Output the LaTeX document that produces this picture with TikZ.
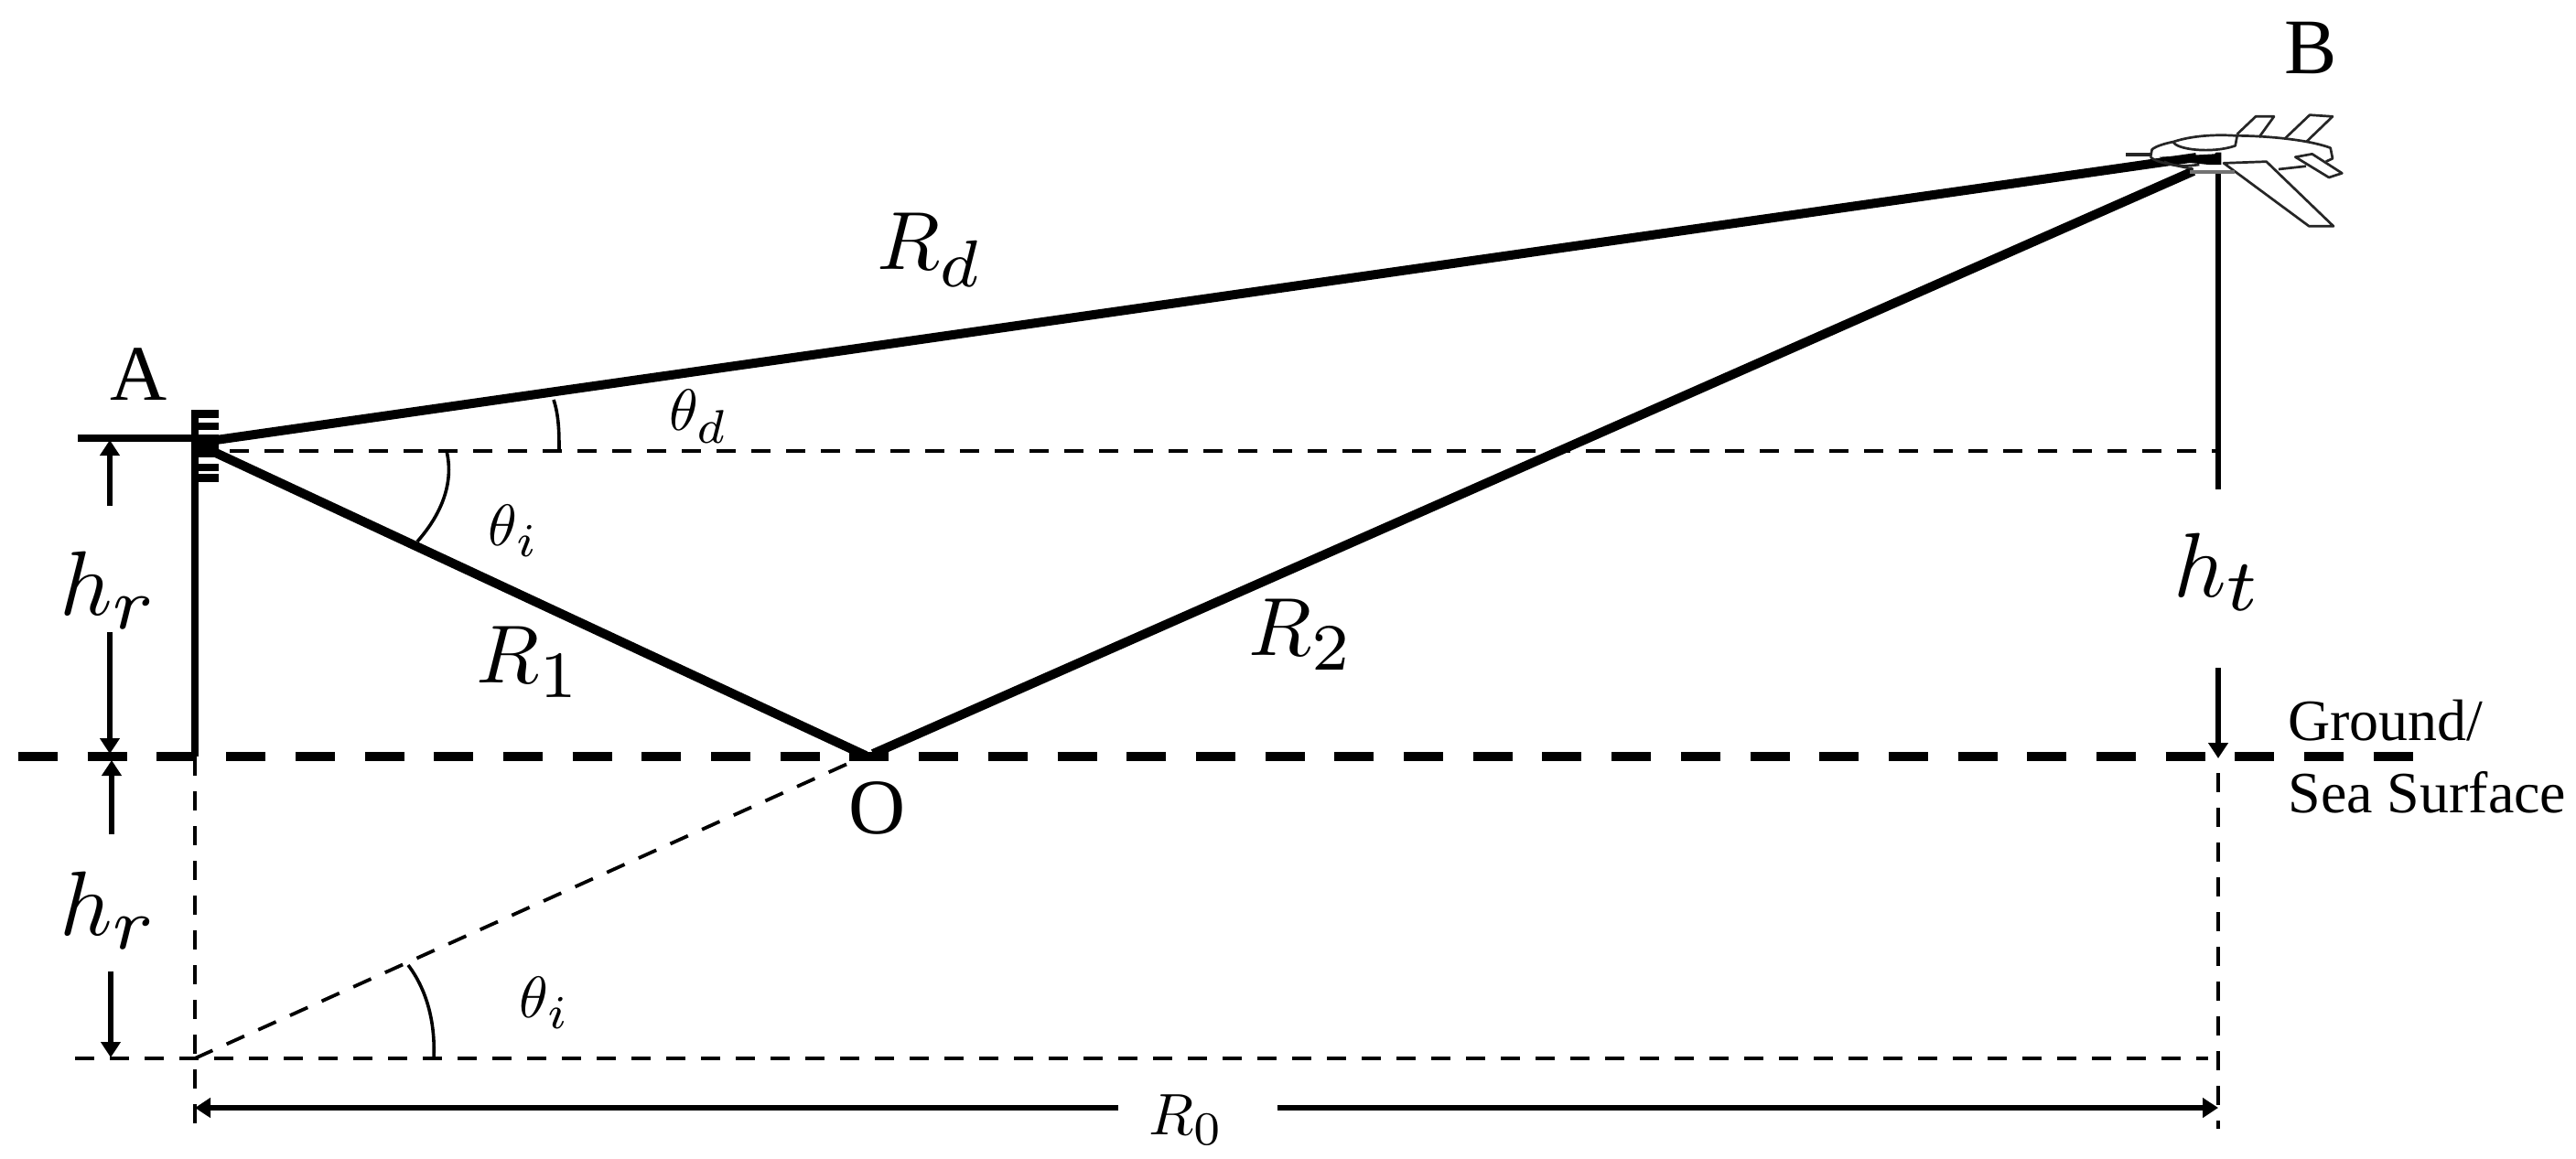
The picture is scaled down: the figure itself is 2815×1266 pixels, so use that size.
\documentclass[tikz,border=0pt]{standalone}
\usepackage{graphicx}
\usepackage{fontspec}
\newfontfamily\tnr{Liberation Serif}
\usetikzlibrary{arrows.meta}
\newcommand{\sbs}[1]{_{\scalebox{1.15}{$\scriptstyle #1$}}}
\tikzset{
  thickray/.style={line width=5pt},
  solidthin/.style={line width=2.8pt},
  arcline/.style={line width=1.8pt},
  dim/.style={line width=2.6pt,-{Triangle[length=8.5pt,width=10.5pt]}},
  thindash/.style={line width=2.4pt,dash pattern=on 10.6pt off 8.4pt},
  slantdash/.style={line width=1.9pt,dash pattern=on 10.6pt off 8.4pt},
  grounddash/.style={line width=5.2pt,dash pattern=on 21.5pt off 16.35pt},
  plane/.style={line width=1.35pt,line join=round,black!85},
  bigmath/.style={inner sep=0pt,scale=4.5},
  himath/.style={inner sep=0pt,scale=5.0},
  smallmath/.style={inner sep=0pt,scale=3.2},
  serifcap/.style={inner sep=0pt,anchor=base,font=\tnr\fontsize{43}{47}\selectfont},
  seriftext/.style={inner sep=0pt,anchor=base west,font=\tnr\fontsize{32}{36}\selectfont},
}
\begin{document}
\begin{tikzpicture}[x=0.5pt,y=-0.5pt]
\useasboundingbox (0,0) rectangle (2815,1266);
% key points
\coordinate (A) at (215,484);
\coordinate (Ai) at (225,490);
\coordinate (O) at (946,826);
\coordinate (O2) at (954,824);
\coordinate (Bd) at (2400,172);
\coordinate (Br) at (2397,187);
\coordinate (I) at (213,1157);
\coordinate (gl) at (20,827);
\coordinate (gr) at (2638,827);
\coordinate (hl) at (251,493);
\coordinate (hr) at (2425,493);
\coordinate (bl) at (82,1157);
\coordinate (br) at (2413,1157);
\coordinate (vlt) at (213,827);
\coordinate (vlb) at (213,1243);
\coordinate (vrt) at (2424,845);
\coordinate (vrb) at (2424,1234);
% ground, dashes
\draw[grounddash] (gl) -- (gr);
\draw[thindash] (hl) -- (hr);
\draw[thindash] (bl) -- (br);
\draw[thindash] (vlt) -- (vlb);
\draw[thindash] (vrt) -- (vrb);
\draw[slantdash] (I) -- (O);
% mast & antenna
\coordinate (mt) at (213,448);
\coordinate (mb) at (213,827);
\coordinate (armL) at (85,479);
\coordinate (armR) at (209,479);
\draw[line width=4pt] (mt) -- (mb);
\draw[line width=4pt] (armL) -- (armR);
\fill (209,448) rectangle (239,457);
\fill (209,462) rectangle (239,470);
\fill (209,475) rectangle (239,500);
\fill (209,507) rectangle (239,515);
\fill (209,518) rectangle (239,527);
% rays
\draw[thickray] (A) -- (Bd);
\draw[thickray] (Ai) -- (O);
\draw[thickray] (O2) -- (Br);
% plumb line
\coordinate (pt) at (2424,190);
\coordinate (pb) at (2424,535);
\draw[solidthin] (pt) -- (pb);
% arcs
\draw[arcline] (605,437) .. controls (611,455) and (611,475) .. (611,493);
\draw[arcline] (488,493) .. controls (497,530) and (480,565) .. (456,592);
\draw[arcline] (446,1055) .. controls (465,1080) and (476,1115) .. (474,1157);
% dimension arrows
\coordinate (a1s) at (120,553); \coordinate (a1e) at (120,481);
\coordinate (a2s) at (120,691); \coordinate (a2e) at (120,824);
\coordinate (a3s) at (122,912); \coordinate (a3e) at (122,831);
\coordinate (a4s) at (121,1062); \coordinate (a4e) at (121,1156);
\coordinate (a5s) at (2424,730); \coordinate (a5e) at (2424,829);
\draw[dim] (a1s) -- (a1e);
\draw[dim] (a2s) -- (a2e);
\draw[dim] (a3s) -- (a3e);
\draw[dim] (a4s) -- (a4e);
\draw[dim] (a5s) -- (a5e);
% R0
\node[smallmath] (r0) at (1296,1224) {$R\sbs{0}$};
\coordinate (r0l) at (213,1211); \coordinate (r0r) at (2424,1211);
\coordinate (r0a) at (1222,1211); \coordinate (r0b) at (1396,1211);
\draw[dim] (r0a) -- (r0l);
\draw[dim] (r0b) -- (r0r);
% labels
\node[serifcap] (la) at (152,437) {A};
\node[serifcap] (lb) at (2525,80) {B};
\node[serifcap] (lo) at (959,911) {O};
\node[seriftext] (g1) at (2500,809) {Ground/};
\node[seriftext] (g2) at (2500,888) {Sea Surface};
\node[bigmath] (rd) at (1016,273) {$R\sbs{d}$};
\node[bigmath] (r1) at (578,724) {$R\sbs{1}$};
\node[bigmath] (r2) at (1422,694) {$R\sbs{2}$};
\node[himath] (hr1) at (119,645) {$h\sbs{r}$};
\node[himath] (hr2) at (119,995) {$h\sbs{r}$};
\node[himath] (ht) at (2424,625) {$h\sbs{t}$};
\node[smallmath] (td) at (763,455) {$\theta\sbs{d}$};
\node[smallmath] (ti1) at (561,580) {$\theta\sbs{i}$};
\node[smallmath] (ti2) at (595,1096) {$\theta\sbs{i}$};
% aircraft (drawn in units of one third of a pixel from its corner)
\begin{scope}[shift={(2320,130)},xscale=0.3333,yscale=0.3333]
\draw[plane,line width=2pt] (10,117) -- (90,117);
\draw[plane] (90,125) -- (95,100) .. controls (110,88) and (140,80) .. (165,75)
  .. controls (240,50) and (330,52) .. (370,55)
  .. controls (450,55) and (600,65) .. (680,95) -- (687,130) -- (665,140);
\draw[plane] (165,75) .. controls (172,100) and (290,115) .. (368,88) -- (375,50);
\draw[plane] (374,50) -- (435,-8) -- (495,-8) -- (446,60);
\draw[plane] (530,65) -- (612,-13) -- (687,-8) -- (601,75);
\draw[plane] (330,145) -- (470,140) -- (690,352) -- (610,352) -- cycle;
\draw[plane] (565,125) -- (620,115) -- (718,178) -- (675,192) -- cycle;
\draw[plane] (510,165) -- (600,155);
\draw[plane] (90,125) .. controls (110,145) and (170,150) .. (230,165);
\draw[plane] (135,140) .. controls (170,158) and (210,155) .. (250,150);
\fill (120,125) -- (300,115) -- (305,110) -- (322,110) -- (322,150) -- (280,150) -- (200,142) -- (130,135) -- cycle;
\fill[black!55] (220,168) rectangle (365,180);
\end{scope}
\end{tikzpicture}
\end{document}
